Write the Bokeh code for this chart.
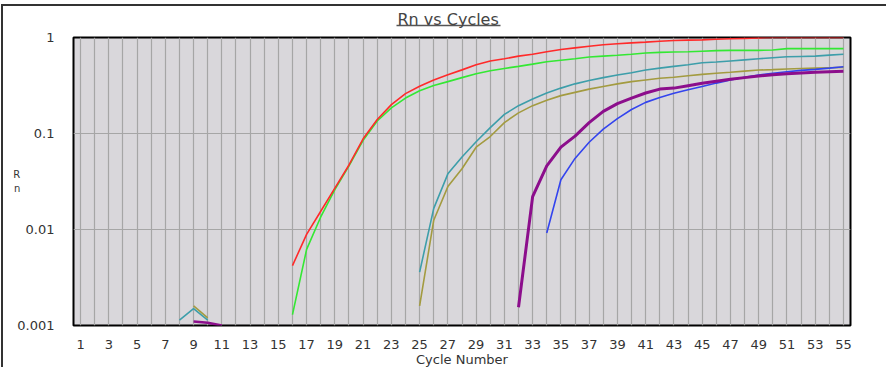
from bokeh.plotting import figure
from bokeh.models import FixedTicker, Range1d, LinearAxis, Title
from bokeh.embed import file_html
from bokeh.resources import INLINE

# ---------------- data ----------------
x_ticks = list(range(1, 56, 2))
x_tick_labels = [str(t) for t in x_ticks]
grid_cycles = list(range(1, 56))
y_ticks = [0.001, 0.01, 0.1, 1]
y_tick_labels = ["0.001", "0.01", "0.1", "1"]

red_cycles = list(range(16, 56))
red_rn = [0.0042, 0.0089, 0.0155, 0.027, 0.047, 0.088, 0.14, 0.20, 0.26, 0.31,
          0.36, 0.41, 0.46, 0.52, 0.57, 0.60, 0.64, 0.67, 0.71, 0.75,
          0.78, 0.81, 0.84, 0.86, 0.88, 0.895, 0.915, 0.93, 0.94, 0.945,
          0.96, 0.97, 0.98, 0.99, 1.0, 1.0, 1.0, 1.0, 1.0, 1.0]

green_cycles = list(range(16, 56))
green_rn = [0.0013, 0.0062, 0.0135, 0.026, 0.046, 0.085, 0.135, 0.185, 0.234, 0.279,
            0.316, 0.347, 0.382, 0.42, 0.45, 0.476, 0.50, 0.528, 0.558, 0.58,
            0.60, 0.627, 0.64, 0.653, 0.67, 0.69, 0.70, 0.706, 0.71, 0.72,
            0.73, 0.735, 0.735, 0.735, 0.74, 0.765, 0.765, 0.765, 0.765, 0.765]

teal_cycles = list(range(25, 56))
teal_rn = [0.0036, 0.0166, 0.038, 0.057, 0.082, 0.115, 0.158, 0.195, 0.229, 0.264,
           0.297, 0.329, 0.356, 0.382, 0.407, 0.43, 0.458, 0.48, 0.50, 0.52,
           0.545, 0.555, 0.57, 0.585, 0.60, 0.615, 0.63, 0.635, 0.64, 0.655, 0.67]

olive_cycles = list(range(25, 56))
olive_rn = [0.0016, 0.0125, 0.028, 0.043, 0.072, 0.093, 0.13, 0.164, 0.195, 0.222,
            0.248, 0.268, 0.29, 0.309, 0.329, 0.347, 0.361, 0.376, 0.385, 0.40,
            0.413, 0.424, 0.434, 0.446, 0.458, 0.463, 0.469, 0.475, 0.48, 0.484, 0.488]

purple_cycles = list(range(32, 56))
purple_rn = [0.00155, 0.022, 0.046, 0.072, 0.094, 0.13, 0.17, 0.205, 0.234, 0.264,
             0.29, 0.297, 0.315, 0.334, 0.35, 0.367, 0.382, 0.397, 0.41, 0.42,
             0.427, 0.434, 0.44, 0.444]

blue_cycles = list(range(34, 56))
blue_rn = [0.0092, 0.033, 0.055, 0.081, 0.111, 0.143, 0.178, 0.211, 0.237, 0.262,
           0.285, 0.309, 0.335, 0.361, 0.385, 0.407, 0.425, 0.44, 0.455, 0.466,
           0.48, 0.495]

teal_blip_cycles = [8, 9, 10]
teal_blip_rn = [0.00114, 0.0015, 0.00114]
olive_blip_cycles = [9, 10]
olive_blip_rn = [0.0016, 0.0012]
purple_blip_cycles = [9, 10, 11]
purple_blip_rn = [0.0011, 0.00107, 0.001]

title_text = "Rn vs Cycles"

# ---------------- figure ----------------
W, H = 885, 363
FL, FR = 70, 847          # frame left/right in canvas px
X0, X1 = 0.5, 55.5


def px_x(px_page):
    # page px -> x data (canvas starts at page x=3)
    return X0 + (px_page - 3 - FL) * (X1 - X0) / (FR - FL)


p = figure(width=W, height=H, x_range=Range1d(X0, X1), y_range=Range1d(0.001, 1),
           y_axis_type="log", output_backend="svg", toolbar_location=None,
           title=None, min_border_left=FL, min_border_right=W - FR,
           min_border_top=31, min_border_bottom=40)
p.margin = (4, 0, 0, 1)
p.styles = {"border-top": "2px solid #333333", "border-left": "2px solid #333333"}
p.background_fill_color = "#d9d7db"
p.border_fill_color = "white"
p.outline_line_color = "black"
p.outline_line_width = 2

# grids
p.xgrid.ticker = FixedTicker(ticks=grid_cycles)
p.xgrid.grid_line_color = "#a6a6a6"
p.xgrid.grid_line_width = 1.2
p.ygrid.ticker = FixedTicker(ticks=y_ticks)
p.ygrid.grid_line_color = "#a6a6a6"
p.ygrid.grid_line_width = 1.2

# axes
for ax in (p.xaxis[0], p.yaxis[0]):
    ax.axis_line_color = None
    ax.major_tick_line_color = None
    ax.minor_tick_line_color = None
    ax.major_label_text_font = "DejaVu Sans"
    ax.major_label_text_font_size = "13px"
    ax.major_label_text_color = "#333333"
    ax.axis_label_text_font = "DejaVu Sans"
    ax.axis_label_text_font_style = "normal"
    ax.axis_label_text_color = "#333333"

p.xaxis.ticker = FixedTicker(ticks=x_ticks)
p.xaxis.major_label_overrides = {t: s for t, s in zip(x_ticks, x_tick_labels)}
p.xaxis.major_label_standoff = 8
p.xaxis.axis_label = "Cycle Number"
p.xaxis.axis_label_text_font_size = "13px"
p.xaxis.axis_label_standoff = 0

p.yaxis.ticker = FixedTicker(ticks=y_ticks)
p.yaxis.major_label_overrides = {t: s for t, s in zip(y_ticks, y_tick_labels)}
p.yaxis.major_label_standoff = 13
p.yaxis.axis_label = "R\nn"
p.yaxis.axis_label_orientation = "horizontal"
p.yaxis.axis_label_text_font_size = "10px"
p.yaxis.axis_label_standoff = -6
p.yaxis.axis_label_text_align = "center"

# above the frame: invisible spacer axis, bounded axis line (title underline), title
mid = 27
spacer = LinearAxis(ticker=FixedTicker(ticks=[mid]), major_label_overrides={mid: ""},
                    major_tick_out=12, major_tick_in=0, minor_tick_out=0, minor_tick_in=0,
                    major_tick_line_color=None, minor_tick_line_color=None,
                    axis_line_color=None, major_label_text_font_size="1px",
                    major_label_standoff=0)
underline = LinearAxis(ticker=FixedTicker(ticks=[mid]), major_label_overrides={mid: ""},
                       bounds=(px_x(396), px_x(500)),
                       major_tick_out=0, major_tick_in=0, minor_tick_out=0, minor_tick_in=0,
                       major_tick_line_color=None, minor_tick_line_color=None,
                       axis_line_color="#555555", axis_line_width=1.5,
                       major_label_text_font_size="1px", major_label_standoff=0)
p.add_layout(spacer, "above")
p.add_layout(underline, "above")
p.add_layout(Title(text=title_text, align="left", offset=397 - 3 - FL,
                   text_font="DejaVu Sans", text_font_size="16px",
                   text_font_style="normal", text_color="#444444", standoff=-6), "above")

# series
series = [
    (teal_blip_cycles, teal_blip_rn, "#3d9eaa", 1.6),
    (olive_blip_cycles, olive_blip_rn, "#a39b40", 1.6),
    (purple_blip_cycles, purple_blip_rn, "#8c0e8c", 2.6),
    (green_cycles, green_rn, "#33e833", 1.6),
    (red_cycles, red_rn, "#ff2a2a", 1.6),
    (teal_cycles, teal_rn, "#3d9eaa", 1.6),
    (olive_cycles, olive_rn, "#a39b40", 1.6),
    (blue_cycles, blue_rn, "#3344ee", 1.6),
    (purple_cycles, purple_rn, "#8c0e8c", 3.0),
]
for xs, ys, col, lw in series:
    p.line(xs, ys, line_color=col, line_width=lw)

open("out.html", "w").write(file_html(p, INLINE))
